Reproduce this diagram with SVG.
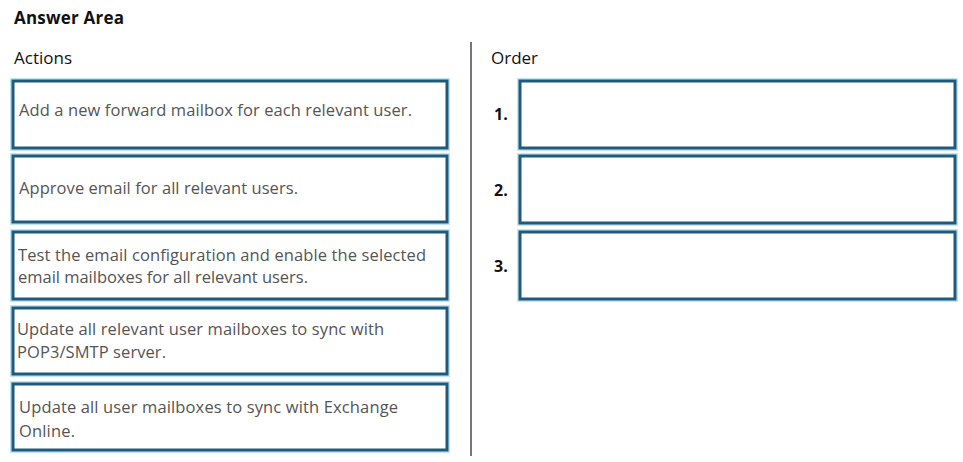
<svg xmlns="http://www.w3.org/2000/svg" width="963" height="462" viewBox="0 0 963 462">
<style>
.box{fill:#ffffff;stroke:#1e5a7c;stroke-width:3}
.halo{fill:none;stroke:#bfe6f2;stroke-width:6}
.head{font-family:"Open Sans","Noto Sans",sans-serif;font-size:17px;fill:#111}
.bold{font-weight:bold}
.t{font-family:"Open Sans","Noto Sans",sans-serif;font-size:16.5px;fill:#555}
.num{font-family:"Open Sans","Noto Sans",sans-serif;font-size:16px;font-weight:bold;fill:#111}
</style>
<rect width="963" height="462" fill="#ffffff"/>
<text class="head bold" x="14" y="24" textLength="110">Answer Area</text>
<text class="head" x="14" y="64">Actions</text>
<text class="head" x="491" y="64">Order</text>
<line x1="471" y1="42" x2="471" y2="456" stroke="#777" stroke-width="2"/>
<g id="action1"><rect class="halo" x="13" y="81" width="434" height="67"/><rect class="box" x="13" y="81" width="434" height="67"/><text class="t" x="19" y="116" textLength="393">Add a new forward mailbox for each relevant user.</text></g>
<g id="action2"><rect class="halo" x="13" y="156" width="434" height="66"/><rect class="box" x="13" y="156" width="434" height="66"/><text class="t" x="19" y="194" textLength="279">Approve email for all relevant users.</text></g>
<g id="action3"><rect class="halo" x="13" y="232" width="434" height="67"/><rect class="box" x="13" y="232" width="434" height="67"/><text class="t" x="18" y="261" textLength="408">Test the email configuration and enable the selected</text><text class="t" x="18" y="283" textLength="290">email mailboxes for all relevant users.</text></g>
<g id="action4"><rect class="halo" x="13" y="308" width="434" height="66"/><rect class="box" x="13" y="308" width="434" height="66"/><text class="t" x="17" y="335" textLength="367">Update all relevant user mailboxes to sync with</text><text class="t" x="17" y="358" textLength="149">POP3/SMTP server.</text></g>
<g id="action5"><rect class="halo" x="13" y="384" width="434" height="66"/><rect class="box" x="13" y="384" width="434" height="66"/><text class="t" x="19" y="413" textLength="379">Update all user mailboxes to sync with Exchange</text><text class="t" x="19" y="437" textLength="56">Online.</text></g>
<g id="order1"><rect class="halo" x="520" y="81" width="435" height="67"/><rect class="box" x="520" y="81" width="435" height="67"/><text class="num" x="494" y="120">1.</text></g>
<g id="order2"><rect class="halo" x="520" y="156" width="435" height="67"/><rect class="box" x="520" y="156" width="435" height="67"/><text class="num" x="494" y="196">2.</text></g>
<g id="order3"><rect class="halo" x="520" y="232" width="435" height="67"/><rect class="box" x="520" y="232" width="435" height="67"/><text class="num" x="494" y="272">3.</text></g>
</svg>
